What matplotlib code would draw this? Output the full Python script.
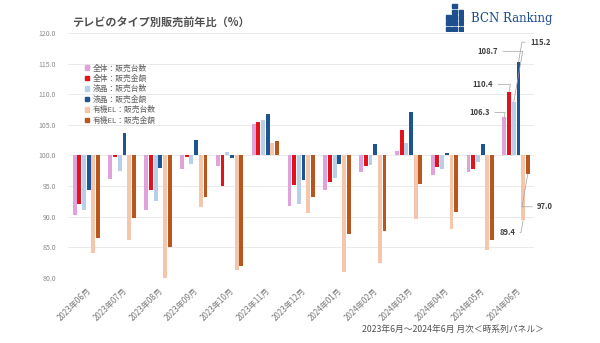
import matplotlib
matplotlib.use("Agg")
import matplotlib.pyplot as plt
import matplotlib.patches as mpatches
import numpy as np

plt.rcParams['font.family'] = ['Noto Sans CJK JP', 'DejaVu Sans']

months = ["2023年06月", "2023年07月", "2023年08月", "2023年09月", "2023年10月",
          "2023年11月", "2023年12月", "2024年01月", "2024年02月", "2024年03月",
          "2024年04月", "2024年05月", "2024年06月"]

series_names = ["全体：販売台数", "全体：販売金額", "液晶：販売台数",
                "液晶：販売金額", "有機EL：販売台数", "有機EL：販売金額"]

total_units  = [90.2, 96.1, 91.1, 97.7, 98.3, 105.2, 91.8, 94.3, 97.3, 100.7, 96.8, 97.3, 106.3]
total_sales  = [92.1, 99.7, 94.4, 99.7, 95.0, 105.5, 95.1, 95.6, 98.2, 104.1, 98.1, 97.7, 110.4]
lcd_units    = [91.1, 97.5, 92.6, 98.6, 100.5, 105.7, 92.0, 96.3, 98.5, 102.0, 97.7, 98.9, 108.7]
lcd_sales    = [94.3, 103.7, 97.9, 102.5, 99.6, 106.7, 95.9, 98.6, 101.9, 107.1, 100.4, 101.9, 115.2]
oled_units   = [84.1, 86.1, 80.0, 91.5, 81.2, 102.0, 90.6, 81.0, 82.4, 89.6, 88.0, 84.6, 89.4]
oled_sales   = [86.5, 89.7, 85.0, 93.2, 82.0, 102.3, 93.2, 87.2, 87.7, 95.4, 90.8, 86.1, 97.0]

series = [total_units, total_sales, lcd_units, lcd_sales, oled_units, oled_sales]
colors = ["#DFA2DA", "#E3121B", "#B7CFE8", "#1E5490", "#F6C6AC", "#B8561F"]

title = "テレビのタイプ別販売前年比（%）"
caption = "2023年6月～2024年6月 月次＜時系列パネル＞"
yticks = [80, 85, 90, 95, 100, 105, 110, 115, 120]

fig = plt.figure(figsize=(6.0, 3.43), dpi=100)
ax = fig.add_axes([0.114, 0.190, 0.776, 0.714])

x = np.arange(len(months))
pitch = 0.131
width = 0.108
for j, (vals, col) in enumerate(zip(series, colors)):
    vals = np.array(vals)
    ax.bar(x + (j - 2.5) * pitch, vals - 100, bottom=100, width=width,
           color=col, zorder=3, label=series_names[j])

ax.set_xlim(-0.5, len(months) - 0.5)
ax.set_ylim(80, 120)
ax.set_yticks(yticks)
ax.set_yticklabels([f"{v:.1f}" for v in yticks], fontsize=5, color="#8a8a8a")
ax.set_xticks(x)
ax.set_xticklabels(months, rotation=45, ha="right", va="top", fontsize=5.8,
                   color="#7a7a7a", rotation_mode="anchor")
ax.tick_params(axis="y", length=0, pad=9)
ax.tick_params(axis="x", length=0, pad=6)
ax.grid(axis="y", color="#e6e6e6", lw=0.6, zorder=0)
for s in ax.spines.values():
    s.set_visible(False)

# value labels on the latest month, with elbow leader lines
last = len(months) - 1
label_pos = [
    (11.27, 107.0, "right"),
    (11.36, 111.6, "right"),
    (11.50, 117.0, "right"),
    (12.39, 118.5, "left"),
    (11.97, 87.4, "right"),
    (12.59, 91.6, "left"),
]
for j, (tx, ty, ha) in enumerate(label_pos):
    v = series[j][last]
    bx = last + (j - 2.5) * pitch
    ax.annotate(f"{v:.1f}", xy=(bx, v), xytext=(tx, ty), ha=ha, va="center",
                fontsize=5.5, fontweight="bold", color="#404040",
                arrowprops=dict(arrowstyle="-", color="#a0a0a0", lw=0.5,
                                shrinkA=1.5, shrinkB=0,
                                connectionstyle="angle,angleA=0,angleB=80,rad=0"),
                zorder=5, annotation_clip=False)

handles = [mpatches.Patch(color=c, label=n) for c, n in zip(colors, series_names)]
leg = ax.legend(handles=handles, loc="upper left", bbox_to_anchor=(0.03, 0.885),
                frameon=False, fontsize=5.6, handlelength=0.5, handleheight=0.5,
                handletextpad=0.4, labelspacing=0.3, borderaxespad=0)
for t in leg.get_texts():
    t.set_color("#606060")

fig.text(0.12, 0.935, title, fontsize=8, fontweight="bold", color="#505050",
         ha="left", va="center")
fig.text(0.603, 0.04, caption, fontsize=6.3, color="#505050", ha="left", va="center")

# BCN Ranking logo
logo_ax = fig.add_axes([0.742, 0.908, 0.032, 0.083])
logo_ax.set_xlim(0, 3)
logo_ax.set_ylim(0, 5)
logo_ax.axis("off")
cols_h = [3, 5, 4]
for cx, h in enumerate(cols_h):
    for cy in range(h):
        logo_ax.add_patch(mpatches.Rectangle((cx + 0.1, cy + 0.1), 0.75, 0.75,
                                             color="#1E4E8C"))
fig.text(0.785, 0.945, "BCN Ranking", fontsize=8.5, family="DejaVu Serif",
         color="#1E4E8C", ha="left", va="center")

fig.savefig("out.png", dpi=100)
